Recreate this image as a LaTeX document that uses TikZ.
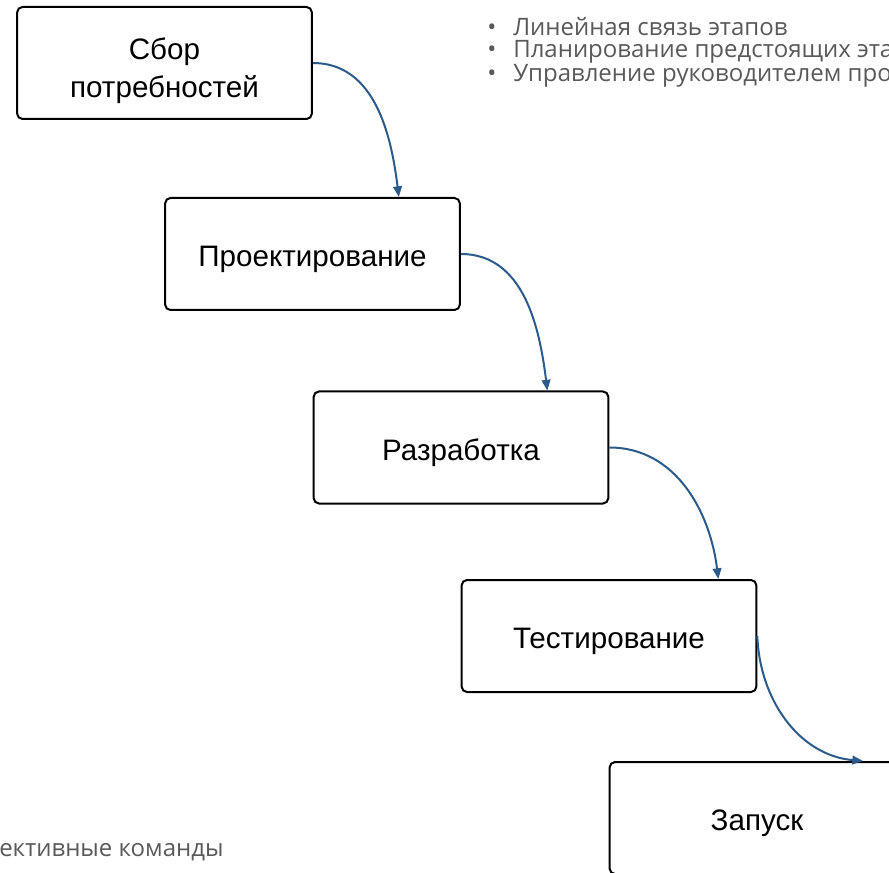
\documentclass[tikz,border=0pt]{standalone}
\usepackage{fontspec}
\setmainfont{Liberation Sans}
\newfontfamily\notefont{Open Sans}
\usetikzlibrary{arrows.meta}

\definecolor{linkblue}{HTML}{2B5B8A}
\definecolor{notegray}{HTML}{595959}

\tikzset{
    stage/.style={draw=black, line width=1.5pt, rounded corners=4pt,
        minimum width=221pt, minimum height=84pt, inner sep=0pt,
        align=center, font=\fontsize{22.2}{28.5}\selectfont,
        execute at begin node={\rule{0pt}{23.5pt}}},
    link/.style={->, linkblue, line width=1.5pt},
    note/.style={anchor=base west, inner sep=0pt, align=left, text=notegray,
        font=\notefont\fontsize{18}{16.9}\selectfont}
}

\begin{document}
\begin{tikzpicture}[x=0.75pt,y=0.75pt,>={Triangle[length=8pt,width=6.5pt]}]

% Frame
\useasboundingbox (0,0) rectangle (889,-873);
\clip (0,0) rectangle (889,-873);

% Stages
\node[stage] (need)   at (164.5,-63)  {\rule{0pt}{28pt}Сбор\\потребностей};
\node[stage] (design) at (312.5,-254) {Проектирование};
\node[stage] (build)  at (461,-447.5) {Разработка};
\node[stage] (test)   at (609,-636)   {Тестирование};
\node[stage] (launch) at (757,-818)   {Запуск};

% Links between stages
\draw[link] (need.east)   to[out=0,in=97]   ([xshift=-46.5pt]design.north east);
\draw[link] (design.east) to[out=0,in=97]   ([xshift=-46.5pt]build.north east);
\draw[link] (build.east)  to[out=0,in=97]   ([xshift=-29.25pt]test.north east);
\draw[link] (test.east)   to[out=-88,in=175] ([xshift=79.5pt]launch.north);

% Notes
\node[note] (traits) at (487,-82)
    {\makebox[19.5pt][l]{•}Линейная связь этапов\\
     \makebox[19.5pt][l]{•}Планирование предстоящих этапов\\
     \makebox[19.5pt][l]{•}Управление руководителем проекта};
\node[note] (teams) at (-1,-856) {ективные команды};

\end{tikzpicture}
\end{document}
